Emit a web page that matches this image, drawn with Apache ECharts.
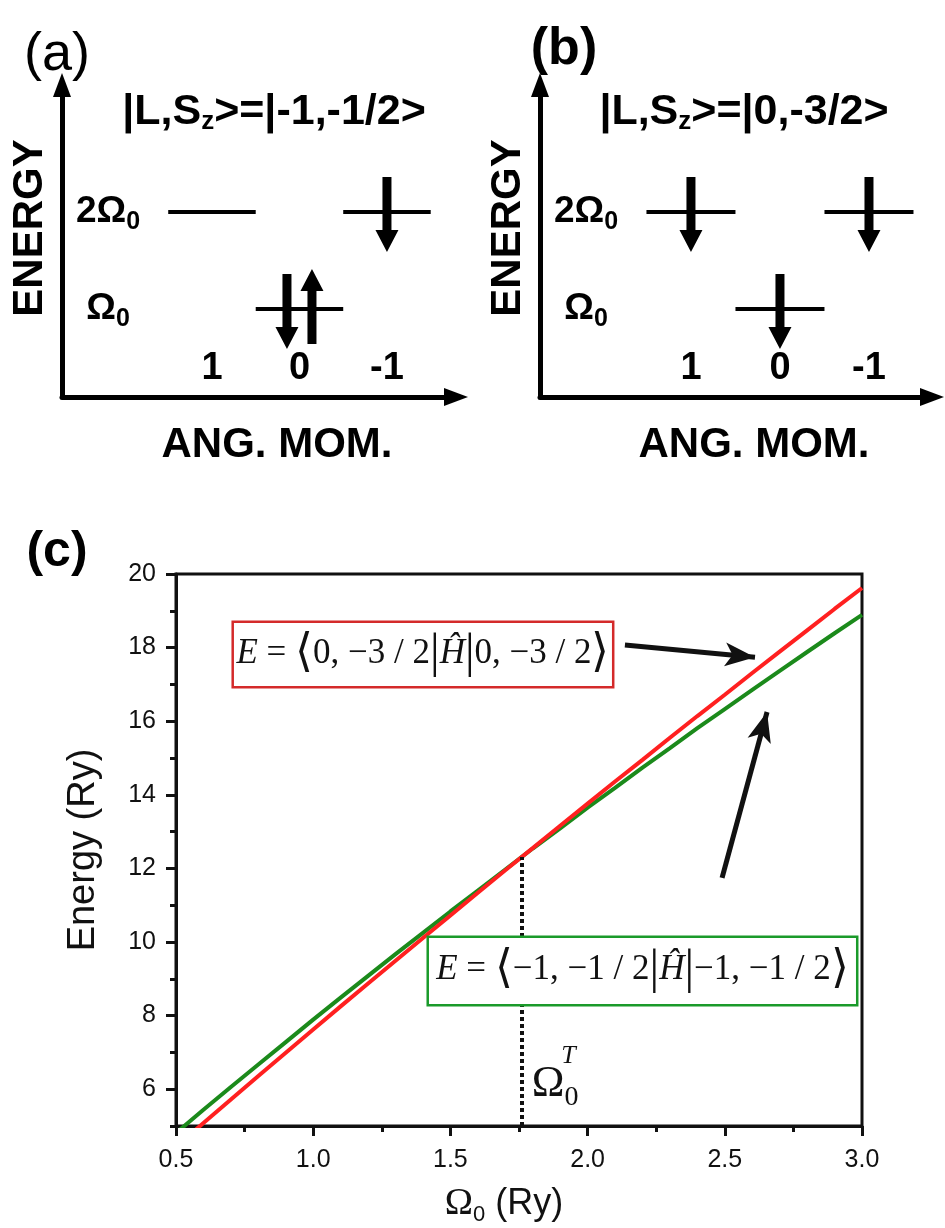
<!DOCTYPE html>
<html><head><meta charset="utf-8">
<script src="https://cdn.jsdelivr.net/npm/echarts@6/dist/echarts.min.js"></script>
<style>html,body{margin:0;padding:0;background:#fff}#c{width:945px;height:1228px}</style>
</head><body><div id="c"></div>
<script>
// ---------- Panels (a) and (b): single-particle level schemes ----------
const orbitalL = [1, 0, -1];          // angular momentum of each orbital
const orbitalLevel = [2, 1, 2];       // energy of each orbital, in units of Omega0
const levelTicks = [1, 2];
const angMomTicks = [1, 0, -1];
const levelTickNames = ['Ω', '2Ω'];
const spinsA_L = [-1, 0, 0];
const spinsA_level = [2, 1, 1];
const spinsA_dir = [-1, -1, 1];       // -1 = spin down, +1 = spin up
const spinsB_L = [1, 0, -1];
const spinsB_level = [2, 1, 2];
const spinsB_dir = [-1, -1, -1];
const ketA = '|L,S{z|z}>=|-1,-1/2>';
const ketB = '|L,S{z|z}>=|0,-3/2>';

// ---------- Panel (c): energies vs Omega0 ----------
const omega = [0.5,0.6,0.7,0.8,0.9,1.0,1.1,1.2,1.3,1.4,1.5,1.6,1.7,1.8,1.9,2.0,2.1,2.2,2.3,2.4,2.5,2.6,2.7,2.8,2.9,3.0];
const energyRed = [4.44,5.08,5.72,6.36,6.99,7.62,8.25,8.87,9.49,10.11,10.72,11.34,11.95,12.55,13.16,13.76,14.36,14.95,15.55,16.14,16.72,17.31,17.89,18.47,19.05,19.62];
const energyGreen = [4.81,5.44,6.06,6.67,7.28,7.89,8.49,9.08,9.67,10.25,10.83,11.40,11.97,12.54,13.09,13.65,14.19,14.74,15.27,15.81,16.33,16.85,17.37,17.88,18.39,18.89];
const omegaT = 1.76, energyT = 12.31;
const yTicks = [6,8,10,12,14,16,18,20];
const redLabelAt = [1.40, 17.81];
const greenLabelAt = [2.20, 9.21];
const redArrow = [[2.136, 18.07], [2.61, 17.74]];
const greenArrow = [[2.49, 11.74], [2.654, 16.25]];
const omegaTLabelAt = [1.882, 6.12];
const omegaTSupAt = [1.93, 6.90];

const SANS = "'Liberation Sans', Arial, Helvetica, sans-serif";
const SERIF = "'Liberation Serif', 'Times New Roman', serif";
const INK = '#111';

function pairShift(Ls, lev, dirs, i) {
  for (let j = 0; j < Ls.length; j++) {
    if (j !== i && Ls[j] === Ls[i] && lev[j] === lev[i]) return dirs[i];
  }
  return 0;
}
function spinData(Ls, lev, dirs) {
  return Ls.map((L, i) => [L, lev[i], dirs[i], pairShift(Ls, lev, dirs, i)]);
}
function renderLevel(params, api) {
  const L = api.value(0), E = api.value(1);
  const a = api.coord([L + 0.5, E]), b = api.coord([L - 0.5, E]);
  return { type: 'line', shape: { x1: a[0], y1: a[1], x2: b[0], y2: b[1] },
           style: { stroke: '#000', lineWidth: 4 } };
}
function renderSpin(params, api) {
  const p = api.coord([api.value(0), api.value(1)]);
  const dir = api.value(2), shift = api.value(3);
  const x = p[0] + shift * 12.5;
  const tail = p[1] + dir * 35;
  const tip = p[1] - dir * 40;
  const base = tip + dir * 22;
  const sw = 4.5, hw = 11.5;
  return { type: 'polygon', shape: { points: [
      [x - sw, tail], [x + sw, tail], [x + sw, base], [x + hw, base], [x, tip], [x - hw, base], [x - sw, base]] },
    style: { fill: '#000' } };
}
const subRich = { s: { fontSize: 25, fontWeight: 'bold', fontFamily: SANS, color: '#000', padding: [20, 0, 0, 0] } };

function schemeX(gridIndex, min, max) {
  return {
    type: 'value', gridIndex, min, max, inverse: true,
    axisLine: { show: true, onZero: false, symbol: ['none', 'triangle'], symbolSize: [18, 24],
                lineStyle: { color: '#000', width: 5 } },
    axisTick: { show: false }, splitLine: { show: false },
    axisLabel: { inside: true, customValues: angMomTicks, margin: 9, color: '#000',
                 fontSize: 38, fontWeight: 'bold', fontFamily: SANS, formatter: v => String(v) },
    name: 'ANG. MOM.', nameLocation: 'middle', nameGap: 27,
    nameTextStyle: { fontSize: 42, fontWeight: 'bold', fontFamily: SANS, color: '#000', padding: [0, 0, 0, 36] }
  };
}
function schemeY(gridIndex) {
  return {
    type: 'value', gridIndex, min: 0.093, max: 3.309,
    axisLine: { show: true, onZero: false, symbol: ['none', 'triangle'], symbolSize: [18, 24],
                lineStyle: { color: '#000', width: 5 } },
    axisTick: { show: false }, splitLine: { show: false },
    axisLabel: { inside: true, customValues: levelTicks, margin: 46, align: 'center', color: '#000',
                 fontSize: 37, fontWeight: 'bold', fontFamily: SANS, rich: subRich,
                 formatter: v => levelTickNames[levelTicks.indexOf(v)] + '{s|0}' },
    name: 'ENERGY', nameLocation: 'middle', nameRotate: 90, nameGap: 11,
    nameTextStyle: { fontSize: 42, fontWeight: 'bold', fontFamily: SANS, color: '#000', padding: [0, 0, 0, 26] }
  };
}

const boxRich = () => ({
  i: { fontFamily: SERIF, fontStyle: 'italic', fontSize: 35, color: INK },
  n: { fontFamily: SERIF, fontSize: 35, color: INK },
  b: { fontFamily: SERIF, fontSize: 46, color: INK },
  v: { fontFamily: SERIF, fontSize: 48, color: INK }
});

const chart = echarts.init(document.getElementById('c'), null, { renderer: 'canvas', width: 945, height: 1228 });
chart.setOption({
  animation: false,
  backgroundColor: '#fff',
  textStyle: { fontFamily: SANS },
  grid: [
    { left: 62, top: 85, width: 394, height: 312, outerBoundsMode: 'none', containLabel: false },
    { left: 540, top: 85, width: 392, height: 312, outerBoundsMode: 'none', containLabel: false },
    { left: 176, top: 574, width: 686, height: 552, outerBoundsMode: 'none', containLabel: false,
      show: true, borderColor: INK, borderWidth: 3, backgroundColor: 'transparent' }
  ],
  xAxis: [
    schemeX(0, -1.789, 2.714),
    schemeX(1, -1.708, 2.696),
    { type: 'value', gridIndex: 2, min: 0.5, max: 3.0, interval: 0.5, position: 'bottom',
      axisLine: { onZero: false, lineStyle: { color: INK, width: 3 } },
      axisTick: { length: 10, lineStyle: { color: INK, width: 3 } },
      minorTick: { show: true, splitNumber: 2, length: 6, lineStyle: { color: INK, width: 3 } },
      splitLine: { show: false },
      axisLabel: { fontSize: 25, color: INK, fontFamily: SANS, margin: 22, formatter: v => v.toFixed(1) },
      name: '{o|Ω}{s|0} (Ry)', nameLocation: 'middle', nameGap: 56,
      nameTextStyle: { fontSize: 36, color: INK, fontFamily: SANS, padding: [0, 30, 0, 0],
        rich: { o: { fontFamily: SERIF, fontSize: 38, color: INK }, s: { fontSize: 22, color: INK, fontFamily: SANS, padding: [22, 0, 0, 0] } } } }
  ],
  yAxis: [
    schemeY(0),
    schemeY(1),
    { type: 'value', gridIndex: 2, min: 5, max: 20, interval: 1, position: 'left',
      axisLine: { onZero: false, lineStyle: { color: INK, width: 3 } },
      axisTick: { length: 6, lineStyle: { color: INK, width: 3 } },
      axisLabel: { show: false }, splitLine: { show: false } },
    { type: 'value', gridIndex: 2, min: 5, max: 20, position: 'left', offset: 0,
      axisLine: { show: false, onZero: false },
      axisTick: { customValues: yTicks, length: 10, lineStyle: { color: INK, width: 3 } },
      axisLabel: { customValues: yTicks, fontSize: 25, color: INK, fontFamily: SANS, margin: 20 },
      splitLine: { show: false },
      name: 'Energy (Ry)', nameLocation: 'middle', nameRotate: 90, nameGap: 73,
      nameTextStyle: { fontSize: 38, color: INK, fontFamily: SANS } }
  ],
  graphic: [
    { type: 'text', style: { text: '(a)', x: 57, y: 55, align: 'center', verticalAlign: 'middle', fill: '#000', fontSize: 54, fontFamily: SANS } },
    { type: 'text', style: { text: '(b)', x: 564, y: 50, align: 'center', verticalAlign: 'middle', fill: '#000', fontSize: 52, fontWeight: 'bold', fontFamily: SANS } },
    { type: 'text', style: { text: '(c)', x: 57, y: 552, align: 'center', verticalAlign: 'middle', fill: '#000', fontSize: 50, fontWeight: 'bold', fontFamily: SANS } },
    { type: 'text', style: { text: ketA, x: 274, y: 112, align: 'center', verticalAlign: 'middle', fill: '#000', fontSize: 43, fontWeight: 'bold', fontFamily: SANS,
        rich: { z: { fontSize: 26, fontWeight: 'bold', fontFamily: SANS, fill: '#000', padding: [20, 0, 0, 0] } } } },
    { type: 'text', style: { text: ketB, x: 744, y: 112, align: 'center', verticalAlign: 'middle', fill: '#000', fontSize: 43, fontWeight: 'bold', fontFamily: SANS,
        rich: { z: { fontSize: 26, fontWeight: 'bold', fontFamily: SANS, fill: '#000', padding: [20, 0, 0, 0] } } } }
  ],
  series: [
    { type: 'custom', xAxisIndex: 0, yAxisIndex: 0, renderItem: renderLevel, silent: true,
      data: orbitalL.map((L, i) => [L, orbitalLevel[i]]) },
    { type: 'custom', xAxisIndex: 0, yAxisIndex: 0, renderItem: renderSpin, silent: true,
      data: spinData(spinsA_L, spinsA_level, spinsA_dir) },
    { type: 'custom', xAxisIndex: 1, yAxisIndex: 1, renderItem: renderLevel, silent: true,
      data: orbitalL.map((L, i) => [L, orbitalLevel[i]]) },
    { type: 'custom', xAxisIndex: 1, yAxisIndex: 1, renderItem: renderSpin, silent: true,
      data: spinData(spinsB_L, spinsB_level, spinsB_dir) },
    { type: 'line', name: '|-1,-1/2>', xAxisIndex: 2, yAxisIndex: 2, symbol: 'none', silent: true,
      lineStyle: { color: '#1b8a1b', width: 4 }, itemStyle: { color: '#1b8a1b' },
      data: omega.map((w, i) => [w, energyGreen[i]]),
      markLine: { silent: true, symbol: ['none', 'arrow'], symbolSize: [18, 30], label: { show: false },
        lineStyle: { color: INK, width: 5, type: 'solid' },
        data: [
          [{ coord: greenArrow[0] }, { coord: greenArrow[1] }],
          [{ coord: [omegaT, 5], symbol: 'none', lineStyle: { type: [4, 3], width: 4, color: INK } }, { coord: [omegaT, energyT], symbol: 'none' }]
        ] },
      markPoint: { silent: true, symbol: 'rect', symbolSize: 1, itemStyle: { color: 'rgba(0,0,0,0)' },
        data: [
          { coord: greenLabelAt, label: { show: true, position: 'inside', formatter: '{i|E}{n| = }{b|⟨}{n|−1, −1 / 2}{v||}{i|Ĥ}{v||}{n|−1, −1 / 2}{b|⟩}',
              backgroundColor: '#fff', borderColor: '#1a9a2a', borderWidth: 2.5, padding: [8, 4], width: 419, height: 50, align: 'center',
              rich: boxRich() } },
          { coord: omegaTLabelAt, label: { show: true, position: 'inside', formatter: '{o|Ω}{s|0}',
              rich: { o: { fontFamily: SERIF, fontSize: 44, color: INK }, s: { fontFamily: SERIF, fontSize: 28, color: INK, padding: [26, 0, 0, 0] } } } },
          { coord: omegaTSupAt, label: { show: true, position: 'inside', formatter: 'T',
              fontFamily: SERIF, fontStyle: 'italic', fontSize: 26, color: INK } }
        ] } },
    { type: 'line', name: '|0,-3/2>', xAxisIndex: 2, yAxisIndex: 2, symbol: 'none', silent: true,
      lineStyle: { color: '#ff2020', width: 4 }, itemStyle: { color: '#ff2020' },
      data: omega.map((w, i) => [w, energyRed[i]]),
      markLine: { silent: true, symbol: ['none', 'arrow'], symbolSize: [18, 30], label: { show: false },
        lineStyle: { color: INK, width: 5, type: 'solid' },
        data: [[{ coord: redArrow[0] }, { coord: redArrow[1] }]] },
      markPoint: { silent: true, symbol: 'rect', symbolSize: 1, itemStyle: { color: 'rgba(0,0,0,0)' },
        data: [
          { coord: redLabelAt, label: { show: true, position: 'inside', formatter: '{i|E}{n| = }{b|⟨}{n|0, −3 / 2}{v||}{i|Ĥ}{v||}{n|0, −3 / 2}{b|⟩}',
              backgroundColor: '#fff', borderColor: '#d42a2a', borderWidth: 2.5, padding: [7, 4], width: 370, height: 49, align: 'center',
              rich: boxRich() } }
        ] } }
  ]
});
</script></body></html>
